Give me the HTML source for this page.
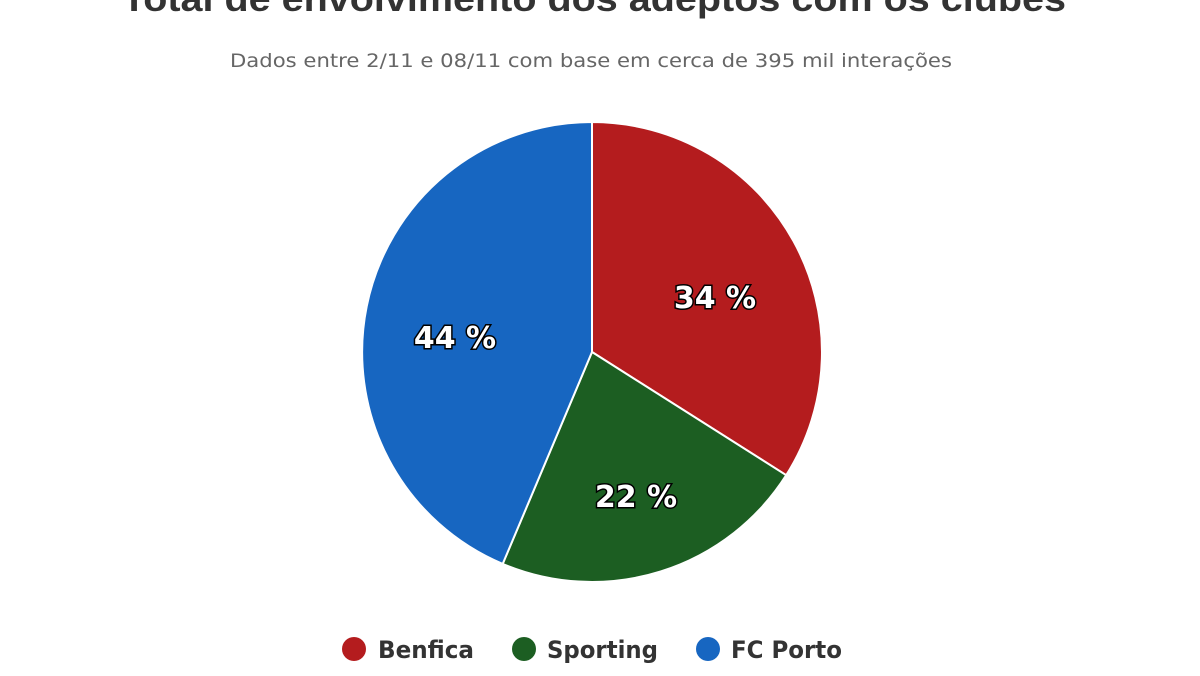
<!DOCTYPE html>
<html><head><meta charset="utf-8"><style>
html,body{margin:0;padding:0;background:#fff;width:1200px;height:676px;overflow:hidden}
</style></head><body>
<svg width="1200" height="676" viewBox="0 0 1200 676" xmlns="http://www.w3.org/2000/svg">
<text x="594" y="11" text-anchor="middle" font-family="Liberation Sans, sans-serif" font-weight="bold" font-size="36" fill="#333" textLength="944" lengthAdjust="spacingAndGlyphs">Total de envolvimento dos adeptos com os clubes</text>
<text x="591" y="67" text-anchor="middle" font-family="DejaVu Sans, sans-serif" font-size="19" fill="#666" textLength="722" lengthAdjust="spacingAndGlyphs">Dados entre 2/11 e 08/11 com base em cerca de 395 mil interações</text>
<g stroke="#fff" stroke-width="2" stroke-linejoin="round">
<path d="M592,352 L592,122 A230,230 0 0 1 786.2,475.2 Z" fill="#b41c1e"/>
<path d="M592,352 L786.2,475.2 A230,230 0 0 1 502.7,563.9 Z" fill="#1c5e22"/>
<path d="M592,352 L502.7,563.9 A230,230 0 0 1 592,122 Z" fill="#1766c1"/>
</g>
<g font-family="DejaVu Sans, sans-serif" font-weight="bold" font-size="30" fill="#fff" stroke="#000" stroke-width="3" paint-order="stroke" text-anchor="middle">
<text x="715" y="308">34 %</text>
<text x="636" y="507">22 %</text>
<text x="455" y="348">44 %</text>
</g>
<circle cx="354" cy="649" r="12" fill="#b41c1e"/>
<circle cx="524" cy="649" r="12" fill="#1c5e22"/>
<circle cx="708" cy="649" r="12" fill="#1766c1"/>
<g font-family="DejaVu Sans, sans-serif" font-weight="bold" font-size="24" fill="#333">
<text x="378" y="658" textLength="96" lengthAdjust="spacingAndGlyphs">Benfica</text>
<text x="547" y="658" textLength="111" lengthAdjust="spacingAndGlyphs">Sporting</text>
<text x="731" y="658" textLength="111" lengthAdjust="spacingAndGlyphs">FC Porto</text>
</g>
</svg>
</body></html>
